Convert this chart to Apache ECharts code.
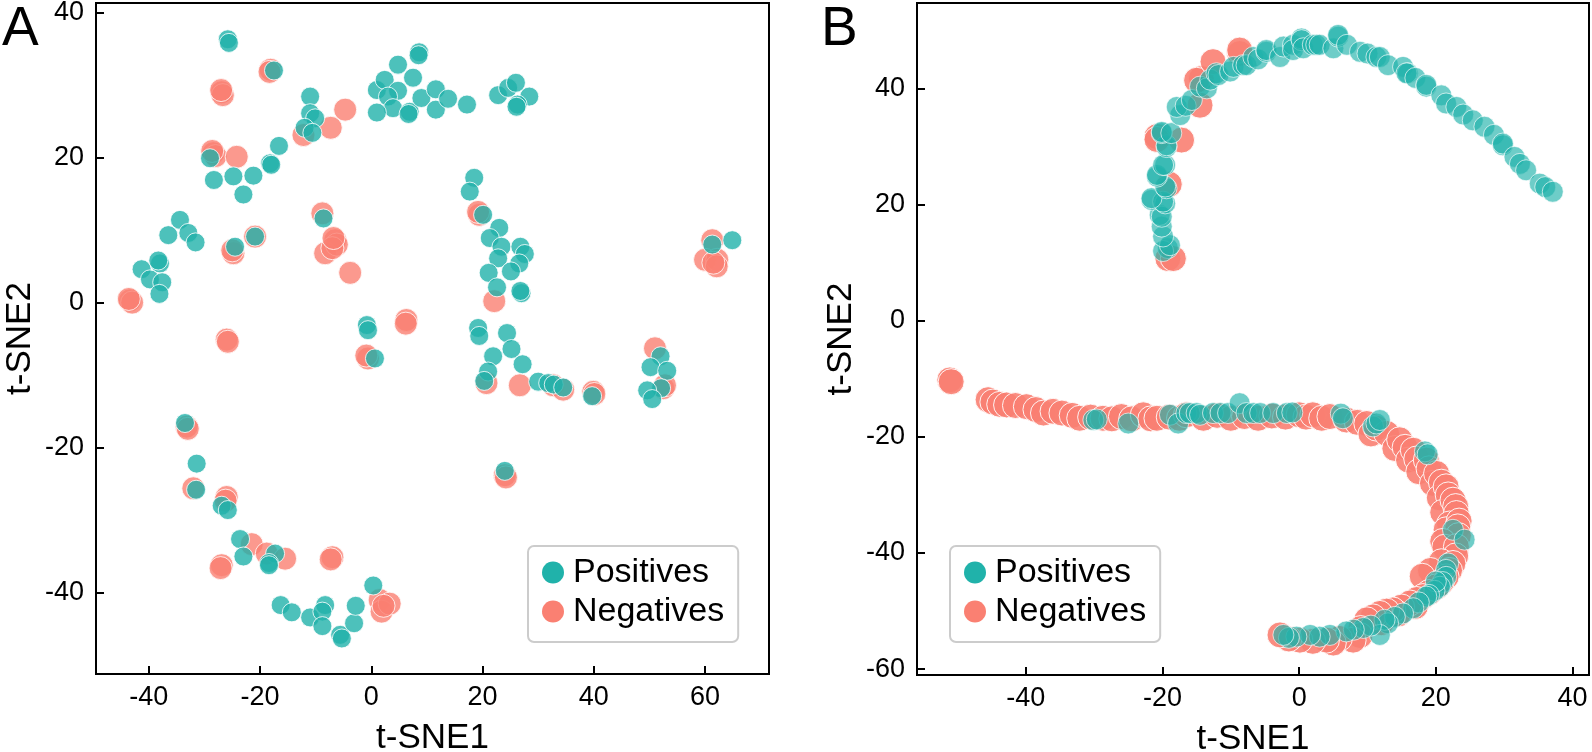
<!DOCTYPE html>
<html><head><meta charset="utf-8">
<script src="https://cdn.jsdelivr.net/npm/echarts@6/dist/echarts.min.js"></script>
<style>html,body{margin:0;padding:0;background:#fff}#c{width:1592px;height:752px}</style>
</head><body><div id="c"></div>
<script>
const xTicksA=[-40,-20,0,20,40,60];
const yTicksA=[-40,-20,0,20,40];
const xTicksB=[-40,-20,0,20,40];
const yTicksB=[-60,-40,-20,0,20,40];
const seriesNames=['Positives','Negatives'];

const posA=[[-25.8,36.3],[-25.6,35.8],[-17.5,32.0],[-11.0,28.4],[-11.0,26.1],[-10.1,25.4],[-12.0,24.1],[-10.6,23.4],
[1.0,29.3],[2.4,30.7],[4.8,32.8],[8.6,34.5],[8.5,34.1],[7.5,31.0],[4.8,29.2],[3.0,28.4],[3.9,26.8],[6.9,26.3],[6.7,26.0],[9.0,28.2],[11.6,29.4],[11.6,26.6],[13.8,28.1],[17.2,27.3],[22.8,28.6],[24.6,29.6],[26.0,30.3],[28.4,28.4],[26.3,27.3],[26.1,27.0],[1.0,26.2],
[-29.0,19.9],[-28.3,16.9],[-24.8,17.4],[-21.2,17.5],[-23.0,14.9],[-18.2,19.2],[-18.0,19.0],[-16.6,21.6],[-8.6,11.6],[-24.5,7.7],[-20.9,9.1],
[-34.4,11.4],[-36.5,9.3],[-32.9,9.6],[-31.6,8.3],[-41.3,4.6],[-38.0,5.4],[-38.3,5.8],[-39.8,3.2],[-37.6,2.8],[-38.1,1.2],
[18.5,17.2],[17.7,15.3],[20.1,12.1],[23.0,10.3],[21.3,8.9],[23.4,7.7],[26.8,7.7],[27.6,6.7],[22.8,6.1],[26.6,5.4],[25.1,4.3],[21.1,4.1],[22.6,2.1],[27.0,1.3],[26.8,1.6],
[61.3,8.0],[64.9,8.6],
[-0.8,-3.1],[-0.6,-3.8],[0.65,-7.7],
[19.2,-3.5],[19.4,-4.6],[24.4,-4.2],[25.2,-6.4],[21.9,-7.4],[27.2,-8.5],[21.0,-9.5],[20.3,-10.8],[30.0,-10.9],[31.8,-11.1],[32.8,-11.3],[34.5,-11.7],[39.7,-12.9],
[52.0,-7.4],[50.2,-8.9],[53.2,-9.4],[52.1,-11.8],[49.6,-12.1],[50.5,-13.3],
[24.0,-23.2],
[-33.5,-16.6],[-31.4,-22.2],[-31.5,-25.8],[-26.9,-28.0],[-25.8,-28.6],[-23.6,-32.6],[-23.0,-35.0],[-17.3,-34.6],[-18.4,-35.9],[-18.4,-36.2],
[-16.3,-41.7],[-14.3,-42.7],[-11.0,-43.4],[-8.3,-41.7],[-8.8,-42.6],[-8.8,-44.6],[-5.6,-45.8],[-5.3,-46.3],[-3.1,-44.2],[-2.8,-41.8],[0.35,-39.0]];

const negA=[[-18.1,32.1],[-18.3,31.8],[-26.9,29.0],[-26.7,28.6],[-27.0,29.3],[-12.2,23.1],[-7.3,24.1],[-4.7,26.6],
[-28.4,20.6],[-28.0,20.2],[-28.6,20.9],[-24.2,20.1],[-8.8,12.3],[-6.5,8.6],[-8.3,6.8],[-6.2,8.0],[-7.0,7.5],[-6.8,8.9],[-3.8,4.1],[-24.8,6.8],[-25.0,7.2],[-20.9,9.1],[-43.4,0.3],[-43.0,0.0],[-43.6,0.5],
[19.4,12.1],[19.2,12.5],[22.1,0.2],[61.3,8.6],[60.0,5.9],[62.2,5.9],[62.1,5.0],[61.5,5.5],
[-26.0,-5.1],[-25.8,-5.4],[-0.6,-7.7],[-0.9,-7.3],[6.3,-2.4],[6.2,-2.9],
[20.7,-11.1],[26.7,-11.4],[32.7,-11.4],[34.5,-12.0],[39.9,-12.3],[40.1,-12.6],[51.0,-6.3],[52.5,-11.8],[52.8,-11.4],
[24.0,-23.8],[24.2,-24.1],
[-33.2,-17.1],[-33.0,-17.4],[-32.0,-25.6],[-26.0,-26.8],[-26.2,-27.3],[-21.5,-33.3],[-26.9,-36.2],[-27.1,-36.6],[-18.8,-34.6],[-15.5,-35.3],[-7.0,-35.1],[-7.3,-35.4],[1.5,-41.0],[1.85,-42.6],[3.3,-41.5],[2.2,-41.8]];

const posB=[[-19.2,12.5],[-19.9,12.0],[-18.9,13.0],[-19.9,14.5],[-20.1,16.2],[-20.4,18.2],[-20.1,17.9],[-21.6,20.8],[-19.6,20.2],[-19.9,20.5],[-21.6,21.1],[-19.4,22.8],[-19.6,23.1],[-20.8,24.8],[-20.8,25.1],[-19.6,26.8],[-19.9,26.8],[-19.4,29.9],[-19.4,30.2],[-20.1,32.3],[-20.1,32.5],[-18.7,32.3],[-17.4,35.4],[-17.9,36.8],[-16.6,37.0],[-15.7,38.0],[-14.5,40.3],[-13.5,40.0],[-13.0,41.5],[-12.1,42.6],[-11.8,42.3],[-10.1,42.9],[-9.6,43.7],[-8.2,44.0],[-7.7,44.0],[-6.7,45.4],[-6.0,45.0],[-4.8,46.3],[-4.8,46.6],[-2.8,45.4],[-2.3,47.2],[-0.9,47.5],[-0.9,46.6],[0.35,48.6],[0.35,48.3],[0.6,46.9],[2.0,47.5],[2.5,47.5],[3.0,47.5],[5.0,46.9],[5.7,48.9],[5.7,49.2],[7.0,47.5],[8.9,46.3],[10.0,46.0],[11.3,45.4],[11.8,45.4],[13.0,44.0],[15.2,43.7],[15.9,42.6],[15.7,42.6],[17.0,41.8],[18.6,40.3],[18.6,40.6],[20.8,38.8],[21.5,37.4],[23.0,36.8],[24.0,35.5],[25.4,34.5],[27.1,33.4],[28.5,32.0],[29.8,30.2],[29.8,30.5],[31.5,28.2],[32.3,27.0],[33.2,25.9],[35.2,23.6],[36.0,23.0],[37.1,22.2],
[-30.1,-17.1],[-29.6,-17.0],[-25.0,-17.7],[-18.9,-16.2],[-17.7,-17.7],[-16.5,-15.9],[-16.0,-15.9],[-15.0,-15.9],[-14.5,-16.2],[-12.6,-15.9],[-11.5,-15.9],[-10.4,-15.9],[-8.7,-14.2],[-7.7,-15.9],[-6.7,-15.9],[-5.7,-15.9],[-3.8,-15.9],[-1.8,-15.9],[-1.0,-15.8],
[6.1,-16.0],[6.4,-16.8],[10.8,-18.2],[11.3,-17.7],[11.8,-17.1],[18.4,-22.5],[18.8,-23.0],[22.5,-36.0],[24.2,-37.7],
[21.8,-41.8],[21.5,-42.9],[21.5,-44.1],[21.0,-45.0],[20.6,-45.8],[19.8,-46.5],[20.0,-44.9],[19.0,-47.2],[18.6,-47.5],[17.5,-48.5],[16.7,-49.5],[15.2,-50.4],[14.0,-51.0],[13.0,-52.1],[12.5,-51.5],[11.8,-54.1],[10.5,-52.5],[9.4,-52.9],[8.0,-53.2],[6.9,-53.5],[4.5,-54.1],[3.0,-54.4],[1.6,-54.1],[-0.4,-54.4],[-1.5,-54.6],[-2.3,-54.1]];

const negB=[[-19.2,10.7],[-18.4,10.7],[-20.8,31.7],[-20.8,31.2],[-14.3,41.7],[-15.0,41.4],[-12.6,44.6],[-8.7,46.0],[-8.7,46.6],[-14.5,37.1],[-17.2,31.1],[-19.0,23.5],
[-51.1,-10.2],[-50.9,-10.5],[-45.5,-13.6],[-44.8,-14.0],[-43.8,-14.4],[-42.8,-14.5],[-41.5,-14.6],[-39.9,-14.8],[-38.5,-15.3],[-37.4,-15.9],[-36.0,-15.6],[-34.7,-15.9],[-33.2,-16.3],[-32.1,-16.8],[-30.5,-16.6],[-28.7,-16.8],[-27.4,-16.9],[-26.0,-16.5],[-24.5,-16.9],[-22.8,-16.2],[-21.7,-16.9],[-20.8,-16.8],[-19.0,-16.6],[-17.5,-16.8],[-16.5,-16.2],[-14.0,-16.8],[-12.0,-16.3],[-10.0,-16.8],[-8.0,-16.5],[-6.0,-16.8],[-4.0,-16.4],[-2.0,-16.6],[0.0,-16.2],[1.0,-16.6],[2.0,-16.2],[3.3,-16.8],[4.5,-16.5],[6.9,-17.1],[8.5,-17.5],[9.9,-17.7],[10.5,-19.5],[11.3,-18.5],[12.8,-19.4],[14.0,-22.0],[14.7,-20.5],[15.5,-21.8],[16.0,-24.0],[16.7,-22.3],[17.2,-23.8],[17.5,-26.0],[18.6,-24.0],[19.0,-25.5],[19.5,-28.0],[20.1,-26.3],[20.8,-27.8],[20.5,-30.5],[21.5,-28.6],[21.8,-30.0],[21.0,-33.0],[22.5,-30.9],[22.9,-32.0],[23.0,-33.2],[22.0,-35.0],[21.5,-36.0],[23.4,-34.5],[23.2,-35.5],[23.3,-37.0],[21.0,-38.0],[21.3,-39.0],[23.0,-38.9],[22.9,-40.5],[20.8,-41.5],[22.5,-41.8],[22.0,-43.0],[19.2,-43.0],[18.0,-44.0],[21.5,-44.1],[20.8,-45.0],[20.1,-45.8],[19.0,-46.8],[18.1,-47.5],[17.2,-48.0],[17.0,-49.2],[16.2,-48.6],[15.0,-49.3],[14.5,-50.5],[13.7,-49.8],[12.8,-50.0],[12.0,-52.0],[11.8,-50.4],[10.8,-51.0],[9.9,-51.5],[9.0,-53.0],[8.9,-54.2],[7.9,-55.0],[5.9,-54.7],[5.0,-55.5],[4.0,-55.0],[2.0,-55.2],[0.1,-55.0],[-1.5,-54.8],[-2.8,-54.1]];

const F='"Liberation Sans", Arial, Helvetica, sans-serif';
const TEAL='#20B2AA', SALMON='#FA8072';

function xAx(gi,min,max,ticks){return {type:'value',gridIndex:gi,min:min,max:max,name:'t-SNE1',nameLocation:'middle',nameGap:47,
 nameTextStyle:{fontSize:35,color:'#000',fontFamily:F},splitLine:{show:false},
 axisLine:{show:true,onZero:false,lineStyle:{color:'#000',width:2}},
 axisTick:{show:true,inside:true,length:8,lineStyle:{color:'#000',width:2},customValues:ticks},
 axisLabel:{color:'#000',fontSize:27,fontFamily:F,margin:10,customValues:ticks}};}
function yAx(gi,min,max,ticks){return {type:'value',gridIndex:gi,min:min,max:max,name:'t-SNE2',nameLocation:'middle',nameGap:58,
 nameTextStyle:{fontSize:35,color:'#000',fontFamily:F},splitLine:{show:false},
 axisLine:{show:true,onZero:false,lineStyle:{color:'#000',width:2}},
 axisTick:{show:true,inside:true,length:8,lineStyle:{color:'#000',width:2},customValues:ticks},
 axisLabel:{color:'#000',fontSize:27,fontFamily:F,margin:12,customValues:ticks}};}
function legend(left){return {left:left,top:546,orient:'vertical',data:seriesNames,icon:'circle',itemWidth:22,itemHeight:22,itemGap:2,
 padding:[8,14,12,14],borderColor:'#cccccc',borderWidth:2,borderRadius:6,backgroundColor:'#fff',
 textStyle:{fontSize:34,color:'#000',fontFamily:F,lineHeight:37,padding:[0,0,0,4]},itemStyle:{borderWidth:0,opacity:1},selectedMode:false};}

const chart=echarts.init(document.getElementById('c'),null,{renderer:'canvas'});
chart.setOption({
 animation:false,
 grid:[{left:96,top:3,width:673,height:671,show:true,borderColor:'#000',borderWidth:2,backgroundColor:'transparent',outerBoundsMode:'none',containLabel:false},
       {left:917,top:3,width:672,height:672,show:true,borderColor:'#000',borderWidth:2,backgroundColor:'transparent',outerBoundsMode:'none',containLabel:false}],
 xAxis:[xAx(0,-49.5,71.5,xTicksA),xAx(1,-55.9,42.4,xTicksB)],
 yAxis:[yAx(0,-51.2,41.3,yTicksA),yAx(1,-61,54.7,yTicksB)],
 legend:[legend(528),legend(950)],
 graphic:[{type:'text',left:2,top:2,style:{text:'A',fontSize:55,fill:'#000',fontFamily:F}},
          {type:'text',left:821,top:2,style:{text:'B',fontSize:55,fill:'#000',fontFamily:F}}],
 series:[
  {type:'scatter',name:'Negatives',xAxisIndex:0,yAxisIndex:0,data:negA,symbolSize:23,itemStyle:{color:SALMON,borderColor:'#fff',borderWidth:1}},
  {type:'scatter',name:'Positives',xAxisIndex:0,yAxisIndex:0,data:posA,symbolSize:19,itemStyle:{color:TEAL,borderColor:'#fff',borderWidth:1}},
  {type:'scatter',name:'Negatives',xAxisIndex:1,yAxisIndex:1,data:negB,symbolSize:26,itemStyle:{color:SALMON,borderColor:'#fff',borderWidth:1,opacity:0.9}},
  {type:'scatter',name:'Positives',xAxisIndex:1,yAxisIndex:1,data:posB,symbolSize:21,itemStyle:{color:TEAL,borderColor:'#fff',borderWidth:1,opacity:0.65}}
 ]
});
</script></body></html>
